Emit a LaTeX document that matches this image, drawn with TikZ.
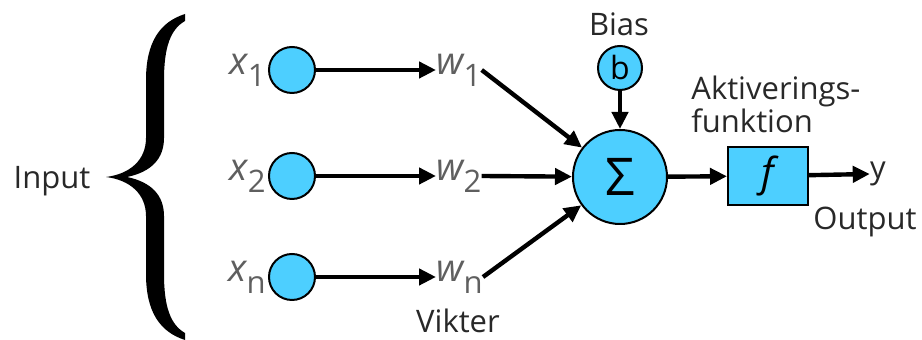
\documentclass[tikz,border=0pt]{standalone}
\usepackage{fontspec}
\setmainfont{Open Sans}
\usetikzlibrary{arrows.meta}
\definecolor{neuronBlue}{RGB}{77,207,255}
\definecolor{varGray}{RGB}{95,95,95}
\definecolor{textGray}{RGB}{40,40,40}

\tikzset{
  neuron/.style={circle,draw=black,line width=1pt,fill=neuronBlue,inner sep=0pt,minimum size=23pt},
  actbox/.style={rectangle,draw=black,line width=1pt,fill=neuronBlue,minimum width=40pt,minimum height=29pt},
  varlabel/.style={text=varGray,inner sep=0pt,font=\fontsize{19}{20}\selectfont\itshape},
  caption/.style={text=textGray,inner sep=0pt,font=\fontsize{15.5}{15}\selectfont},
  link/.style={line width=2.2pt,-{Triangle[length=8.5pt,width=8pt]}}
}
\newcommand{\sub}[1]{\raisebox{-0.6ex}{\fontsize{15.5}{16}\selectfont\upshape #1}}

\begin{document}
\begin{tikzpicture}[x=0.5pt,y=-0.5pt]
\useasboundingbox (0,0) rectangle (922,340);

% inputs
\node[neuron] (x1) at (292,70) {};
\node[neuron] (x2) at (292,176) {};
\node[neuron] (xn) at (292,277) {};
\node[varlabel,anchor=east] (lx1) at (266,70) {x\sub{1}};
\node[varlabel,anchor=east] (lx2) at (266,176) {x\sub{2}};
\node[varlabel,anchor=east] (lxn) at (266,277) {x\sub{n}};

% weights
\node[varlabel,anchor=west] (w1) at (436,70) {w\sub{1}};
\node[varlabel,anchor=west] (w2) at (436,176) {w\sub{2}};
\node[varlabel,anchor=west] (wn) at (436,277) {w\sub{n}};

% summation, bias and activation
\node[neuron,minimum size=47pt,font=\fontsize{26}{26}\selectfont] (sum) at (620,177) {Σ};
\node[neuron,minimum size=22pt,font=\fontsize{16}{16}\selectfont] (b) at (620,68) {b};
\node[actbox,font=\fontsize{20}{20}\selectfont\itshape] (f) at (768,176) {f};
\node[caption] (y) at (878,174) {y};

% texts
\node[caption] (input) at (52,181) {Input};
\node[caption] (bias) at (619,24) {Bias};
\node[caption,align=left,anchor=west] (akt) at (691,104) {Aktiverings-\\funktion};
\node[caption] (output) at (865,222) {Output};
\node[caption] (vikter) at (458,321) {Vikter};

% brace
\fill[black] (185,14) .. controls (160,22) and (146,42) .. (146,80) -- (146,138)
  .. controls (146,160) and (130,174) .. (106,177)
  .. controls (130,180) and (146,194) .. (146,216) -- (146,274)
  .. controls (146,312) and (160,332) .. (185,340) -- (185,333)
  .. controls (171,325) and (164,308) .. (164,274) -- (164,216)
  .. controls (164,195) and (151,182) .. (127,177)
  .. controls (151,172) and (164,159) .. (164,138) -- (164,80)
  .. controls (164,46) and (171,29) .. (185,21) -- cycle;

\draw[link] (x1) -- (w1.west);
\draw[link] (x2) -- (w2.west);
\draw[link] (xn) -- (wn.west);
\draw[link] (w1.east) -- (sum);
\draw[link] (w2.east) -- (sum);
\draw[link] (wn.east) -- (sum);
\draw[link] (b) -- (sum);
\draw[link] (sum) -- (f);
\draw[link] (f) -- (y.west);
\end{tikzpicture}
\end{document}
